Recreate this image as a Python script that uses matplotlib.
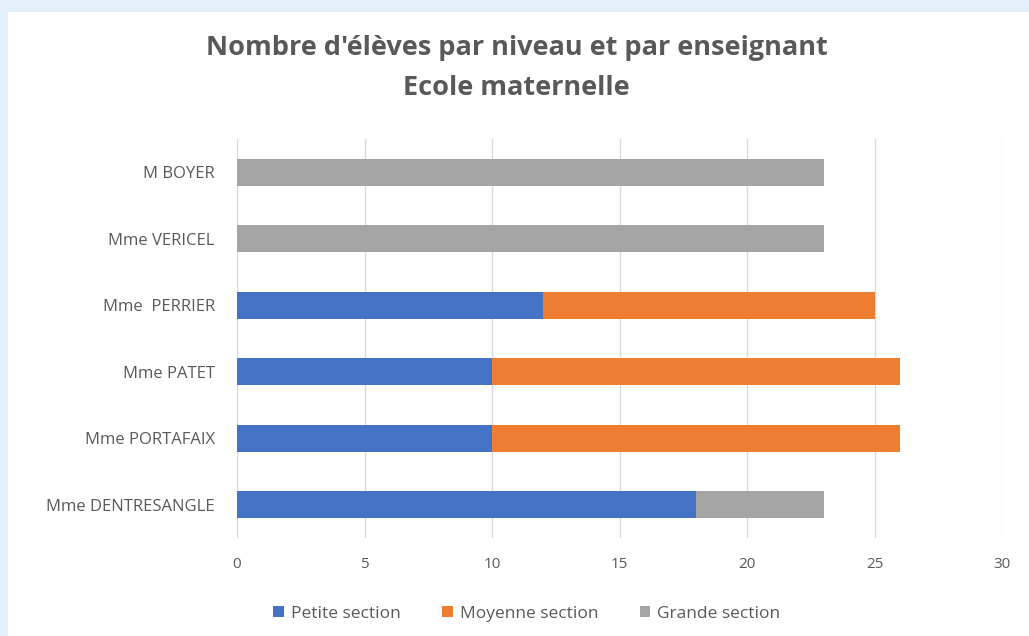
import numpy as np
import matplotlib.pyplot as plt
from matplotlib.patches import Rectangle

# données
enseignants = ["Mme DENTRESANGLE", "Mme PORTAFAIX", "Mme PATET",
               "Mme  PERRIER", "Mme VERICEL", "M BOYER"]
petite = [18, 10, 10, 12, 0, 0]
moyenne = [0, 16, 16, 13, 0, 0]
grande = [5, 0, 0, 0, 23, 23]

plt.rcParams['font.family'] = ['Open Sans', 'DejaVu Sans']

fig = plt.figure(figsize=(10.29, 6.36), dpi=100, facecolor="#e3eff8")
# carte blanche
fig.patches.append(Rectangle((8 / 1029, 0), 1, 1 - 12 / 636, transform=fig.transFigure,
                             facecolor="white", edgecolor="none", zorder=-10))

ax = fig.add_axes([237 / 1029, 1 - 538 / 636, 765 / 1029, 399 / 636])
ax.set_facecolor("none")
ax.set_zorder(2)

y = np.arange(len(enseignants))
h = 0.4
p = np.array(petite)
m = np.array(moyenne)
g = np.array(grande)
ax.barh(y, p, height=h, color="#4472C4", label="Petite section", zorder=3)
ax.barh(y, m, left=p, height=h, color="#ED7D31", label="Moyenne section", zorder=3)
ax.barh(y, g, left=p + m, height=h, color="#A5A5A5", label="Grande section", zorder=3)

# axes
ax.set_xlim(0, 30)
ax.set_ylim(-0.5, len(enseignants) - 0.5)
ax.set_xticks(np.arange(0, 31, 5))
ax.set_yticks(y)
ax.set_yticklabels(enseignants)
ax.xaxis.grid(True, color="#d9d9d9", linewidth=1, zorder=0)
for s in ax.spines.values():
    s.set_visible(False)
ax.tick_params(axis="x", length=0, labelsize=11, labelcolor="#595959", pad=14)
ax.tick_params(axis="y", length=0, labelsize=12, labelcolor="#595959", pad=16)

fig.text(0.502, 1 - 48 / 636, "Nombre d'élèves par niveau et par enseignant",
         ha="center", va="center", fontsize=19.5, fontweight="bold", color="#595959")
fig.text(0.502, 1 - 88 / 636, "Ecole maternelle",
         ha="center", va="center", fontsize=19.5, fontweight="bold", color="#595959")

leg = fig.legend(loc="center", bbox_to_anchor=(0.512, 1 - 614 / 636), ncol=3,
                 frameon=False, fontsize=12.5, handlelength=0.6, handleheight=0.6,
                 handletextpad=0.4, columnspacing=2.4)
for t in leg.get_texts():
    t.set_color("#595959")

fig.savefig("out.png", dpi=100, facecolor=fig.get_facecolor())
